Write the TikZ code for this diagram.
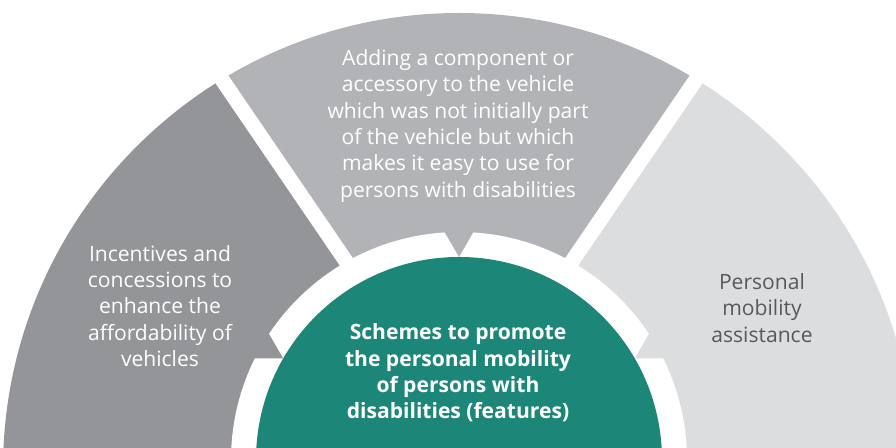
\documentclass[tikz,border=0pt]{standalone}
\usepackage{fontspec}
\setmainfont{Open Sans}
\usetikzlibrary{positioning}
\definecolor{darkgrey}{HTML}{939598}
\definecolor{midgrey}{HTML}{B1B3B6}
\definecolor{lightgrey}{HTML}{DCDDDE}
\definecolor{schemeteal}{HTML}{1C8778}
\definecolor{labelgrey}{HTML}{58595B}
\begin{document}
\begin{tikzpicture}[x=0.02cm, y=0.02cm,
    label text/.style={align=center, font=\fontsize{12}{15}\selectfont},
    gap line/.style={white, line width=0.3cm}]
    \useasboundingbox (0,0) rectangle (896,448);
    \clip (0,0) rectangle (896,448);
    \begin{scope}[shift={(459,-12)}]
        \coordinate (hub) at (0,33);
        \path (hub) ++(124.3:600) coordinate (gapL);
        \path (hub) ++(55.7:600) coordinate (gapR);
        \begin{scope}
            \clip (0,-9) circle[radius=456];
            \fill[darkgrey] (hub) -- (gapL) -- (-600,529) -- (-600,-100) -- (0,-100) -- cycle;
            \fill[midgrey] (hub) -- (gapL) -- (gapR) -- cycle;
            \fill[lightgrey] (hub) -- (gapR) -- (600,529) -- (600,-100) -- (0,-100) -- cycle;
        \end{scope}
        \fill[white] (0,0) circle[radius=228];
        \foreach \a/\col in {150/darkgrey, 90/midgrey, 30/lightgrey}
            \fill[\col] (\a:203) -- ++({\a+30}:33) -- ++({\a-90}:33) -- cycle;
        \draw[gap line] (hub) -- (gapL);
        \draw[gap line] (hub) -- (gapR);
        \fill[schemeteal] (0,0) circle[radius=203];
    \end{scope}
    \node[label text, text=white] (incentives) at (160,142) {Incentives and\\concessions to\\enhance the\\affordability of\\vehicles};
    \node[label text, text=white] (accessory) at (458,322) {Adding a component or\\accessory to the vehicle\\which was not initially part\\of the vehicle but which\\makes it easy to use for\\persons with disabilities};
    \node[label text, text=labelgrey] (assistance) at (762,140) {Personal\\mobility\\assistance};
    \node[label text, text=white, font=\fontsize{12}{15}\selectfont\bfseries] (schemes) at (458,75) {Schemes to promote\\the personal mobility\\of persons with\\disabilities (features)};
\end{tikzpicture}
\end{document}
